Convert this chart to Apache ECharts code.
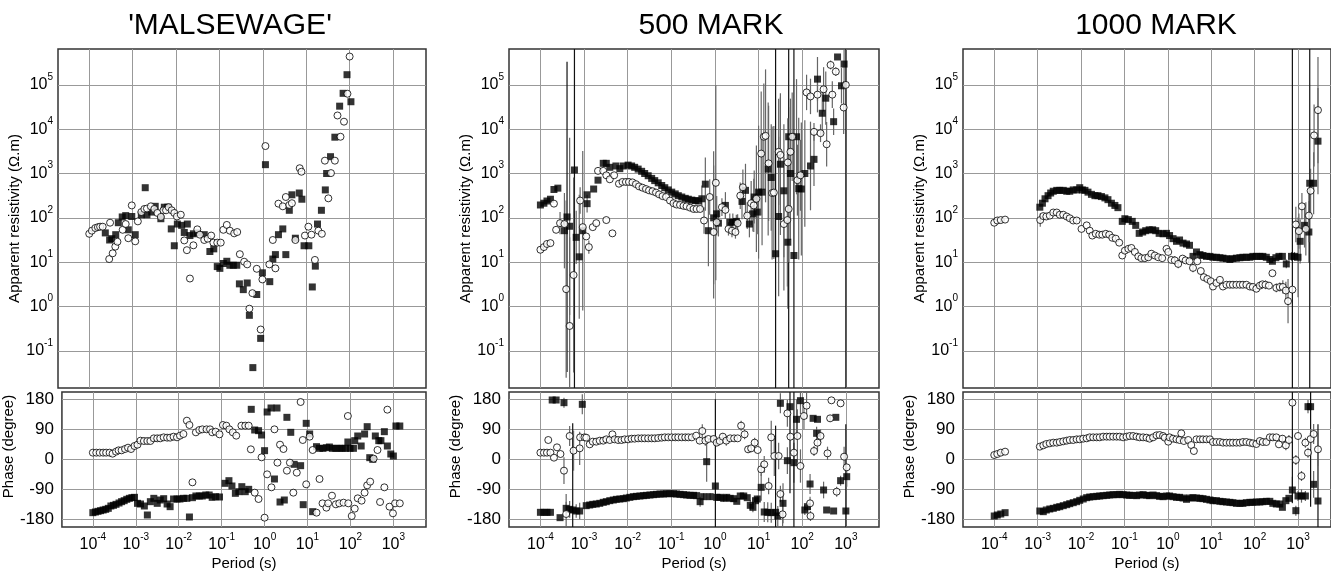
<!DOCTYPE html>
<html>
<head>
<meta charset="utf-8">
<title>Apparent resistivity and phase</title>
<script src="https://cdn.jsdelivr.net/npm/echarts@6/dist/echarts.min.js"></script>
<style>
  html, body { margin: 0; padding: 0; background: #fff; }
  #chart { width: 1331px; height: 572px; }
</style>
</head>
<body>
<div id="chart"></div>
<script>
// every point is [log10 period (s), value, error]; resistivity value and error are log10 (decades), phase in degrees
const titles = ["'MALSEWAGE'", '500 MARK', '1000 MARK'];
const periodTicks = [-4, -3, -2, -1, 0, 1, 2, 3];
const rhoTicks = [-1, 0, 1, 2, 3, 4, 5];
const phaseTicks = [-180, -90, 0, 90, 180];

// 'MALSEWAGE'
const malSqRho = [[-3.63,1.66],[-3.53,1.50],[-3.48,1.53],[-3.39,1.62],[-3.33,1.89],[-3.24,2.02],[-3.16,2.05],[-3.10,1.73],[-3.02,2.03],[-2.94,1.62],[-2.80,2.07],[-2.71,2.68],[-2.67,2.07],[-2.56,2.13],[-2.48,2.26],[-2.35,1.98],[-2.27,2.24],[-2.19,2.24],[-2.11,1.75],[-2.04,1.37],[-1.97,1.86],[-1.87,1.83],[-1.81,1.67],[-1.74,1.86],[-1.68,1.60],[-1.60,1.64],[-1.51,1.66],[-1.35,1.62],[-1.22,1.24],[-1.13,1.30],[-1.05,0.90],[-0.99,0.86],[-0.91,0.97],[-0.83,1.02],[-0.76,0.93],[-0.68,0.93],[-0.60,0.93],[-0.54,0.51],[-0.45,0.38],[-0.36,0.53],[-0.31,-0.20],[-0.23,-1.38],[-0.14,0.27],[-0.05,-0.72],[-0.01,0.76],[0.06,3.20],[0.16,0.56],[0.23,1.07],[0.29,1.17],[0.36,1.62],[0.46,1.75],[0.53,1.17],[0.61,2.17],[0.67,2.52],[0.75,1.54],[0.84,2.56],[0.90,2.42],[0.95,1.37],[1.06,1.37],[1.14,0.44],[1.21,0.91],[1.26,1.86],[1.35,2.17],[1.44,2.63],[1.47,3.00],[1.56,3.38],[1.66,3.82],[1.77,4.52],[1.85,4.81],[1.94,5.23],[2.03,4.62]];
const malCiRho = [[-4.00,1.64],[-3.94,1.71],[-3.86,1.77],[-3.80,1.79],[-3.75,1.80],[-3.69,1.80],[-3.54,1.07],[-3.52,1.89],[-3.46,1.20],[-3.40,1.35],[-3.35,1.46],[-3.23,1.73],[-3.16,1.86],[-3.10,1.54],[-3.02,2.28],[-2.94,1.47],[-2.88,1.92],[-2.80,2.13],[-2.73,2.20],[-2.67,2.21],[-2.58,2.26],[-2.50,2.20],[-2.43,2.11],[-2.35,2.02],[-2.29,2.17],[-2.23,2.17],[-2.17,2.24],[-2.10,2.17],[-2.04,2.11],[-1.98,2.03],[-1.89,2.07],[-1.81,1.49],[-1.75,1.27],[-1.68,0.63],[-1.60,1.38],[-1.51,1.74],[-1.45,1.62],[-1.35,1.50],[-1.27,1.53],[-1.19,1.60],[-1.14,1.44],[-1.05,1.44],[-0.97,1.44],[-0.91,1.73],[-0.83,1.84],[-0.76,1.71],[-0.66,1.65],[-0.59,1.68],[-0.53,1.18],[-0.43,1.01],[-0.36,0.95],[-0.31,-0.05],[-0.24,0.30],[-0.14,0.85],[-0.05,-0.52],[-0.01,0.61],[0.06,3.62],[0.15,0.95],[0.23,1.50],[0.29,0.86],[0.36,2.32],[0.46,2.26],[0.53,2.47],[0.61,2.29],[0.67,2.33],[0.75,1.50],[0.85,3.12],[0.89,3.04],[0.97,1.60],[1.05,1.80],[1.12,1.62],[1.20,1.05],[1.28,1.71],[1.36,1.64],[1.43,3.29],[1.51,2.44],[1.57,3.01],[1.66,3.29],[1.72,4.31],[1.79,3.83],[1.87,4.17],[1.95,4.80],[2.00,5.64]];
const malSqPhs = [[-4.00,-160],[-3.94,-158],[-3.88,-156],[-3.82,-154],[-3.76,-152],[-3.70,-150],[-3.64,-147],[-3.58,-140],[-3.52,-138],[-3.46,-135],[-3.39,-131],[-3.33,-127],[-3.27,-124],[-3.21,-120],[-3.15,-117],[-3.09,-115],[-3.03,-114],[-2.96,-132],[-2.89,-134],[-2.80,-140],[-2.73,-167],[-2.66,-127],[-2.58,-117],[-2.50,-132],[-2.43,-122],[-2.35,-118],[-2.27,-134],[-2.20,-142],[-2.12,-119],[-2.04,-119],[-1.97,-119],[-1.89,-117],[-1.81,-117],[-1.75,-173],[-1.68,-115],[-1.60,-110],[-1.52,-110],[-1.45,-110],[-1.37,-107],[-1.29,-107],[-1.22,-114],[-1.14,-112],[-1.05,-113],[-0.92,-72],[-0.83,-64],[-0.76,-80],[-0.68,-102],[-0.60,-97],[-0.53,-82],[-0.45,-97],[-0.37,-90],[-0.31,150],[-0.23,88],[-0.14,86],[-0.07,73],[0.00,26],[0.06,142],[0.15,154],[0.23,-59],[0.29,154],[0.36,-128],[0.46,-122],[0.52,126],[0.61,81],[0.69,-15],[0.84,-19],[0.90,-136],[0.97,108],[1.05,76],[1.12,-157],[1.21,38],[1.28,33],[1.36,33],[1.44,35],[1.51,37],[1.58,33],[1.66,33],[1.74,33],[1.81,33],[1.89,33],[1.94,52],[1.99,33],[2.07,33],[2.10,56],[2.17,70],[2.25,40],[2.33,76],[2.39,98],[2.45,5],[2.52,0],[2.58,70],[2.66,56],[2.71,56],[2.79,83],[2.86,40],[2.94,16],[3.00,10],[3.06,100],[3.15,100]];
const malCiPhs = [[-4.00,20],[-3.92,20],[-3.84,20],[-3.76,20],[-3.69,20],[-3.61,20],[-3.54,17],[-3.46,23],[-3.40,27],[-3.33,27],[-3.25,31],[-3.18,35],[-3.11,31],[-3.03,40],[-2.96,44],[-2.89,56],[-2.81,55],[-2.73,55],[-2.66,55],[-2.58,63],[-2.50,63],[-2.43,63],[-2.35,66],[-2.27,65],[-2.20,65],[-2.12,68],[-2.04,66],[-1.97,71],[-1.89,76],[-1.81,116],[-1.75,103],[-1.68,-69],[-1.60,81],[-1.52,88],[-1.45,90],[-1.35,90],[-1.27,90],[-1.22,81],[-1.14,83],[-1.05,75],[-0.97,103],[-0.89,101],[-0.82,90],[-0.74,81],[-0.66,71],[-0.54,101],[-0.45,101],[-0.37,101],[-0.32,30],[-0.23,-100],[-0.14,-119],[-0.07,6],[0.00,-175],[0.06,-45],[0.16,-84],[0.23,90],[0.30,-10],[0.36,44],[0.44,31],[0.52,-34],[0.59,-10],[0.67,-100],[0.75,-40],[0.84,172],[0.89,58],[0.97,-75],[1.05,68],[1.12,28],[1.21,-160],[1.28,-59],[1.35,-132],[1.44,-145],[1.48,-132],[1.57,-109],[1.66,-135],[1.74,-132],[1.84,-130],[1.94,130],[1.95,-132],[2.03,-170],[2.10,-148],[2.17,-117],[2.26,-124],[2.33,-100],[2.39,-78],[2.46,-67],[2.54,2],[2.63,28],[2.69,-128],[2.79,-84],[2.86,149],[2.91,-142],[2.99,-162],[3.04,-132],[3.15,-132]];

// 500 MARK
const m500SqRho = [[-4.00,2.29],[-3.92,2.33],[-3.85,2.38],[-3.77,2.42],[-3.69,2.64],[-3.60,2.67],[-3.45,1.71,0.85],[-3.39,2.02,3.5],[-3.33,1.81,2],[-3.22,3.08,6],[-3.18,1.56,0.6],[-3.11,1.12,1.4],[-3.03,1.71,1.8],[-2.93,2.32,0.2],[-2.93,2.52],[-2.78,2.65],[-2.68,2.85],[-2.56,3.23],[-2.49,3.23],[-2.41,3.14],[-2.27,3.17],[-2.18,3.11],[-2.10,3.17],[-1.99,3.19],[-1.91,3.17],[-1.84,3.14],[-1.76,3.10],[-1.68,3.05],[-1.61,3.00],[-1.53,2.95],[-1.45,2.89],[-1.38,2.84],[-1.30,2.79],[-1.22,2.73],[-1.15,2.68],[-1.07,2.63],[-0.99,2.58],[-0.91,2.54],[-0.84,2.50],[-0.76,2.47],[-0.68,2.44],[-0.61,2.42],[-0.53,2.40],[-0.45,2.39],[-0.38,2.38],[-0.30,2.43,0.3],[-0.22,2.76,0.6],[-0.15,1.71,0.8],[-0.03,2.00,1.5],[0.04,2.09,0.4],[0.08,1.88,0.3],[0.24,2.28,0.3],[0.34,1.90,0.2],[0.41,1.90,0.2],[0.49,1.92,0.15],[0.62,2.37,0.4],[0.70,2.62,0.6],[0.79,1.86,0.3],[0.87,2.09,0.4],[0.90,2.47,0.6],[0.97,2.13,0.5],[1.00,2.58,1.5],[1.08,2.58,1.2],[1.22,3.10,1.5],[1.29,2.91,1.2],[1.39,1.19,6],[1.46,2.03,1.8],[1.50,3.21,1.6],[1.58,2.61,1.5],[1.67,1.45,1.5],[1.69,3.83,6],[1.73,3.00,1.5],[1.81,1.15,6],[1.87,3.83,1.3],[1.92,2.66,1.6],[1.98,2.65,1.5],[2.06,3.00,1.2],[2.19,3.17,1.0],[2.27,3.32,0.6],[2.35,5.13,0.5],[2.46,4.36,0.5],[2.54,4.70,0.6],[2.72,4.17,0.3],[2.81,5.63],[2.90,4.98,0.4],[2.96,5.47,0.4]];
const m500CiRho = [[-4.00,1.28],[-3.92,1.34],[-3.85,1.41],[-3.77,1.43],[-3.69,2.32],[-3.64,1.73],[-3.55,1.88,0.25],[-3.45,1.86],[-3.41,0.39,2],[-3.33,-0.44,2],[-3.24,0.71,2.2],[-3.09,2.39,0.3],[-3.03,1.79],[-2.95,1.58],[-2.89,1.34,0.15],[-2.80,1.79],[-2.72,1.88],[-2.49,1.95],[-2.35,1.65],[-2.68,3.06],[-2.56,3.06],[-2.49,2.96],[-2.41,2.87],[-2.31,2.96],[-2.20,2.77],[-2.12,2.81],[-2.04,2.81],[-1.97,2.81],[-1.89,2.80],[-1.81,2.76],[-1.74,2.71],[-1.66,2.68],[-1.58,2.65],[-1.51,2.62],[-1.43,2.60],[-1.35,2.57],[-1.28,2.53],[-1.20,2.49],[-1.12,2.47],[-1.03,2.39],[-0.95,2.33],[-0.88,2.30],[-0.80,2.29],[-0.72,2.27],[-0.65,2.26],[-0.57,2.23],[-0.49,2.20],[-0.42,2.20],[-0.34,2.20],[-0.25,1.94,0.3],[-0.12,2.47,0.4],[-0.03,1.68,1.5],[0.02,2.79,2.2],[0.04,1.90,0.3],[0.16,2.24,0.2],[0.24,2.18,0.2],[0.31,1.75,0.15],[0.39,1.71,0.15],[0.47,1.68,0.15],[0.52,1.88,0.2],[0.58,2.50,0.3],[0.64,2.69,0.4],[0.74,2.05,0.3],[0.83,2.33,0.5],[0.89,2.28,0.6],[0.95,2.43,1.2],[1.06,3.45,1.4],[1.12,3.83,1.2],[1.16,3.85,1.5],[1.23,3.23,1.3],[1.31,2.56,1.5],[1.35,2.57,1.5],[1.46,3.49,1.2],[1.50,3.42,1.3],[1.58,1.86,1.5],[1.66,1.95,1.5],[1.69,2.20,1.2],[1.67,3.25,1.0],[1.73,3.49,1.2],[1.77,3.83,1.0],[1.89,2.85,0.8],[1.96,2.96,0.8],[2.10,4.83,0.4],[2.19,4.74,0.4],[2.27,3.94,0.2],[2.35,4.78,0.4],[2.42,3.91,0.2],[2.49,4.90,0.5],[2.56,3.66,0.5],[2.69,4.78,0.3],[2.65,5.45,0.1],[2.77,5.30,0.1],[2.95,4.49,0.6],[3.00,5.00,8]];
const m500SqPhs = [[-4.00,-159],[-3.92,-159],[-3.85,-159],[-3.77,-159],[-3.73,178],[-3.64,178],[-3.55,-175],[-3.46,170,15],[-3.41,-147,20],[-3.33,-150,25],[-3.26,-152,260],[-3.18,-155,20],[-3.10,-155,25],[-3.04,165,30],[-2.95,-139],[-2.87,-137],[-2.80,-135],[-2.72,-134],[-2.64,-132],[-2.56,-129],[-2.49,-127],[-2.41,-124],[-2.33,-122],[-2.26,-120],[-2.18,-119],[-2.10,-118],[-2.03,-116],[-1.95,-114],[-1.87,-112],[-1.80,-111],[-1.72,-110],[-1.64,-109],[-1.57,-108],[-1.49,-107],[-1.41,-106],[-1.34,-105],[-1.26,-104],[-1.18,-104],[-1.11,-103],[-1.03,-103],[-0.95,-103],[-0.88,-104],[-0.80,-105],[-0.72,-106],[-0.65,-107],[-0.57,-108],[-0.49,-108],[-0.42,-109],[-0.34,-127,15],[-0.26,-112,10],[-0.19,-7,60],[-0.11,-112,10],[0.01,-80,260],[0.04,-114,10],[0.12,-114,10],[0.20,-117,10],[0.27,-114,10],[0.35,-117],[0.43,-118],[0.50,-126],[0.58,-110,10],[0.66,-110,10],[0.74,-115],[0.81,-138,15],[0.87,-144,15],[0.93,-124,10],[0.97,-119,10],[1.06,-84,40],[1.13,-158,30],[1.21,-159,30],[1.29,-160,30],[1.39,-159,260],[1.44,-170,30],[1.50,168,30],[1.56,-132,60],[1.66,-4,40],[1.72,158,260],[1.81,-10,60],[1.87,120,60],[1.96,176,40],[2.06,-152,15],[2.12,-142,15],[2.18,-74,30],[2.25,123],[2.35,120],[2.33,78,20],[2.49,-92,25],[2.56,-152],[2.72,-155],[2.77,126],[2.88,-64,15],[3.00,-155,260],[3.02,-52,30]];
const m500CiPhs = [[-4.00,20],[-3.92,20],[-3.85,20],[-3.77,20],[-3.82,58],[-3.69,5],[-3.62,36],[-3.54,16],[-3.46,-34,40],[-3.41,-164,60],[-3.33,70,30],[-3.24,26,60],[-3.10,33,50],[-3.09,66],[-2.99,66],[-2.95,65],[-2.87,45],[-2.80,53],[-2.72,53],[-2.64,56],[-2.56,56],[-2.49,60],[-2.41,58],[-2.35,75],[-2.30,60],[-2.22,58],[-2.14,58],[-2.07,60],[-1.99,60],[-1.91,62],[-1.84,62],[-1.76,63],[-1.68,63],[-1.61,63],[-1.53,63],[-1.45,63],[-1.38,63],[-1.30,64],[-1.22,65],[-1.15,66],[-1.07,66],[-0.99,66],[-0.91,66],[-0.84,66],[-0.76,66],[-0.68,66],[-0.61,66],[-0.53,66],[-0.43,71],[-0.35,56,10],[-0.29,85,20],[-0.22,56,15],[-0.15,61],[-0.03,61,10],[0.04,50,10],[0.11,55,10],[0.18,68,10],[0.26,56,15],[0.35,63],[0.44,63],[0.52,63],[0.60,101,15],[0.68,75,15],[0.76,30,10],[0.83,33,10],[0.91,50,15],[0.98,28],[1.06,-30,20],[1.13,-15,25],[1.23,-80,25],[1.29,66,50],[1.36,10,60],[1.46,10,40],[1.50,-104,25],[1.55,-165,60],[1.66,138,40],[1.73,68,60],[1.81,20,260],[1.89,70,80],[1.96,-20,50],[2.04,130,40],[2.10,161,40],[2.18,-132,20],[2.19,-170,15],[2.27,25,15],[2.35,50,25],[2.42,70,20],[2.58,18,20],[2.64,123,10],[2.67,177],[2.79,-97,15],[2.88,168],[2.96,8,30],[3.02,-24]];

// 1000 MARK
const m1000SqRho = [[-2.95,2.24],[-2.89,2.33],[-2.83,2.43],[-2.76,2.50],[-2.70,2.56],[-2.64,2.60],[-2.56,2.62],[-2.49,2.62],[-2.41,2.62],[-2.33,2.60],[-2.26,2.60],[-2.18,2.63],[-2.10,2.63],[-2.03,2.68],[-1.97,2.63],[-1.91,2.62],[-1.84,2.58],[-1.76,2.53],[-1.68,2.50],[-1.61,2.50],[-1.53,2.48],[-1.45,2.45],[-1.38,2.41],[-1.30,2.33],[-1.22,2.28],[-1.15,2.23],[-1.05,1.92],[-0.99,1.98],[-0.91,1.96],[-0.82,1.92],[-0.74,1.83],[-0.66,1.65],[-0.58,1.68],[-0.51,1.71],[-0.43,1.73],[-0.35,1.73],[-0.28,1.71],[-0.20,1.65],[-0.11,1.64],[-0.03,1.65],[0.04,1.60],[0.12,1.53],[0.20,1.47],[0.27,1.50],[0.35,1.43],[0.43,1.41],[0.50,1.38],[0.58,1.13],[0.66,1.23],[0.74,1.17],[0.81,1.15],[0.89,1.13],[0.97,1.13],[1.04,1.11],[1.12,1.11],[1.20,1.10],[1.27,1.09],[1.35,1.08],[1.43,1.06],[1.50,1.08],[1.58,1.09],[1.66,1.10],[1.73,1.11],[1.81,1.11],[1.89,1.11],[1.96,1.13],[2.04,1.13],[2.12,1.13],[2.19,1.13],[2.27,1.11],[2.35,1.06],[2.41,1.02],[2.49,1.10],[2.56,1.13],[2.64,1.13],[2.73,0.96,0.1],[2.85,1.13,0.1],[2.92,1.13,0.1],[3.00,1.11,0.9],[3.05,1.47,0.5],[3.15,1.83,0.5],[3.25,1.68,0.7],[3.27,2.78,8],[3.36,2.78,0.7],[3.46,3.73,1.2]];
const m1000CiRho = [[-4.00,1.89],[-3.93,1.94],[-3.85,1.95],[-3.75,1.96],[-2.94,1.95,0.15],[-2.87,2.04],[-2.80,2.03],[-2.72,2.05],[-2.64,2.12],[-2.56,2.12],[-2.49,2.07],[-2.41,2.07],[-2.33,2.03],[-2.26,1.99],[-2.18,1.94],[-2.10,1.94],[-1.99,1.75],[-1.87,1.83],[-1.80,1.71],[-1.74,1.60],[-1.66,1.64],[-1.58,1.62],[-1.51,1.62],[-1.43,1.64],[-1.35,1.62],[-1.28,1.55],[-1.20,1.53],[-1.12,1.44],[-1.05,1.15],[-0.99,1.26],[-0.91,1.30],[-0.84,1.32],[-0.76,1.23],[-0.68,1.13],[-0.61,1.09],[-0.53,1.09],[-0.45,1.11],[-0.38,1.19],[-0.30,1.15],[-0.22,1.11],[-0.13,1.09],[-0.03,1.30],[0.01,1.23],[0.08,1.05],[0.16,1.04,0.1],[0.24,0.96,0.1],[0.34,1.08],[0.41,1.04],[0.50,1.02],[0.58,0.87,0.1],[0.68,1.02],[0.76,0.80],[0.83,0.66],[0.91,0.62],[0.99,0.57],[1.04,0.45],[1.12,0.53],[1.20,0.60],[1.27,0.45],[1.35,0.49],[1.43,0.49],[1.50,0.49],[1.58,0.49],[1.66,0.49],[1.73,0.49],[1.81,0.49],[1.89,0.45],[1.96,0.44],[2.04,0.40],[2.12,0.47],[2.18,0.50],[2.25,0.49,0.1],[2.33,0.47],[2.41,0.75],[2.50,0.42,0.1],[2.58,0.44,0.1],[2.65,0.44,0.15],[2.72,0.36,0.2],[2.77,0.12,0.5],[2.87,0.38,8],[2.95,1.85,0.4],[3.02,1.70,0.4],[3.09,2.26,0.3],[3.18,1.75,0.6],[3.25,2.05,0.6],[3.29,2.61,0.5],[3.37,3.86,0.7],[3.46,4.43,1.2]];
const m1000SqPhs = [[-4.00,-170],[-3.93,-167],[-3.85,-164],[-3.75,-160],[-2.95,-155],[-2.87,-157],[-2.80,-152],[-2.72,-149],[-2.64,-147],[-2.56,-144],[-2.49,-142],[-2.41,-139],[-2.33,-136],[-2.26,-133],[-2.18,-130],[-2.10,-127],[-2.03,-123],[-1.95,-119],[-1.87,-115],[-1.80,-113],[-1.72,-112],[-1.64,-111],[-1.57,-110],[-1.49,-109],[-1.41,-108],[-1.34,-107],[-1.26,-106],[-1.18,-106],[-1.11,-105],[-1.03,-106],[-0.95,-107],[-0.88,-108],[-0.80,-108],[-0.72,-109],[-0.65,-107],[-0.57,-106],[-0.49,-108],[-0.42,-109],[-0.34,-107],[-0.26,-109],[-0.19,-111],[-0.11,-112],[-0.03,-110],[0.04,-110],[0.12,-112],[0.20,-114],[0.27,-114],[0.35,-116],[0.43,-120],[0.50,-116],[0.58,-115],[0.66,-116],[0.74,-117],[0.81,-118],[0.89,-120],[0.97,-122],[1.04,-124],[1.12,-124],[1.20,-126],[1.27,-127],[1.35,-128],[1.43,-129],[1.50,-130],[1.58,-132],[1.66,-132],[1.73,-132],[1.81,-130],[1.89,-129],[1.96,-129],[2.04,-128],[2.12,-128],[2.19,-127],[2.27,-126],[2.35,-126],[2.42,-132],[2.50,-134],[2.58,-134],[2.64,-144],[2.72,-124],[2.79,-117],[2.87,-92,40],[2.95,-154,15],[3.00,-110,15],[3.08,-110,20],[3.17,-110,15],[3.23,158,20],[3.29,158,300],[3.36,-75,40],[3.46,-125,230]];
const m1000CiPhs = [[-4.00,13],[-3.93,16],[-3.85,20],[-3.75,23],[-2.95,38],[-2.87,42],[-2.80,46],[-2.72,48],[-2.64,50],[-2.56,50],[-2.49,52],[-2.41,54],[-2.33,56],[-2.26,58],[-2.18,58],[-2.10,60],[-2.03,60],[-1.95,62],[-1.87,63],[-1.80,66],[-1.72,66],[-1.64,66],[-1.57,66],[-1.49,68],[-1.41,68],[-1.34,68],[-1.26,68],[-1.18,68],[-1.11,68],[-1.03,66],[-0.95,68],[-0.88,70],[-0.80,70],[-0.72,68],[-0.65,66],[-0.57,66],[-0.49,65],[-0.42,62],[-0.34,66],[-0.26,72],[-0.19,73],[-0.11,70],[-0.07,65],[0.01,53],[0.04,66],[0.12,62],[0.20,60],[0.27,58],[0.31,78],[0.37,55],[0.47,58],[0.54,43],[0.60,25],[0.66,60],[0.74,60],[0.81,60],[0.89,60],[0.97,60],[1.04,52],[1.12,52],[1.20,52],[1.27,50],[1.35,50],[1.43,50],[1.50,50],[1.58,50],[1.66,50],[1.73,52],[1.81,52],[1.89,50],[1.96,48],[2.04,46],[2.12,55],[2.19,52],[2.27,52],[2.35,66],[2.42,66],[2.50,66],[2.56,45],[2.64,62,10],[2.72,42,15],[2.79,58,15],[2.87,170,300],[2.95,-2,15],[3.00,70],[3.08,-50,15],[3.17,50,15],[3.23,20,15],[3.29,61,30],[3.36,76,30],[3.46,30,50]];

const sites = [
  { sqRho: malSqRho, ciRho: malCiRho, sqPhs: malSqPhs, ciPhs: malCiPhs },
  { sqRho: m500SqRho, ciRho: m500CiRho, sqPhs: m500SqPhs, ciPhs: m500CiPhs },
  { sqRho: m1000SqRho, ciRho: m1000CiRho, sqPhs: m1000SqPhs, ciPhs: m1000CiPhs }
];

const font = 'Liberation Sans, Arial, Helvetica, sans-serif';
const ink = '#000';
const lefts = [58, 509, 963];
const widths = [368, 370, 368];
const titleX = [225, 706, 1151];

// "10" with a raised exponent
const rich = {
  b: { fontSize: 16, fontFamily: font, color: ink, padding: [5, 0, 5, 0] },
  s: { fontSize: 10, fontFamily: font, color: ink, verticalAlign: 'top' }
};
const pow10 = v => '{b|10}{s|' + v + '}';

const grid = [], xAxis = [], yAxis = [], series = [];

function scatter(data, g, filled) {
  return {
    type: 'scatter', xAxisIndex: g, yAxisIndex: g, silent: true,
    data: data.map(d => [d[0], d[1]]),
    symbol: filled ? 'rect' : 'circle',
    symbolSize: 7,
    itemStyle: filled
      ? { color: ink }
      : { color: '#fff', borderColor: ink, borderWidth: 1 },
    z: filled ? 3 : 4
  };
}

function errorBars(data, g, big) {
  return {
    type: 'custom', xAxisIndex: g, yAxisIndex: g, silent: true, clip: true, z: 2,
    data: data.filter(d => d[2] > 0),
    renderItem: (params, api) => {
      const x = api.value(0), y = api.value(1), e = api.value(2);
      const a = api.coord([x, y + e]);
      const b = api.coord([x, y - e]);
      return {
        type: 'line',
        shape: { x1: a[0], y1: a[1], x2: b[0], y2: b[1] },
        style: { stroke: e >= big ? '#111' : '#666', lineWidth: 1.2 }
      };
    }
  };
}

sites.forEach((site, i) => {
  const up = i * 2, lo = i * 2 + 1;
  grid.push({ left: lefts[i], width: widths[i], top: 49, height: 339,
    show: true, borderColor: '#333', borderWidth: 1.5 });
  grid.push({ left: lefts[i], width: widths[i], top: 392, height: 135,
    show: true, borderColor: '#333', borderWidth: 1.5 });

  [up, lo].forEach(g => {
    const bottom = g === lo;
    xAxis.push({
      type: 'value', gridIndex: g, min: -4.72, max: 3.76,
      axisLine: { show: false },
      axisTick: { show: false, customValues: periodTicks },
      axisLabel: { show: bottom, customValues: periodTicks, formatter: pow10, rich: rich, margin: 5 },
      splitLine: { show: true, lineStyle: { color: '#999', width: 1 } },
      name: bottom ? 'Period (s)' : '', nameLocation: 'middle', nameGap: 29,
      nameTextStyle: { fontSize: 15, fontFamily: font, color: ink }
    });
  });

  yAxis.push({
    type: 'value', gridIndex: up, min: -1.84, max: 5.81,
    axisLine: { show: false },
    axisTick: { show: false, customValues: rhoTicks },
    axisLabel: { customValues: rhoTicks, formatter: pow10, rich: rich, margin: 5 },
    splitLine: { show: true, lineStyle: { color: '#999', width: 1 } },
    name: 'Apparent resistivity (\u03a9.m)', nameLocation: 'middle', nameGap: 35,
    nameTextStyle: { fontSize: 15, fontFamily: font, color: ink }
  });
  yAxis.push({
    type: 'value', gridIndex: lo, min: -203, max: 202,
    axisLine: { show: false },
    axisTick: { show: false, customValues: phaseTicks },
    axisLabel: { customValues: phaseTicks, fontSize: 17, fontFamily: font, color: ink, margin: 8 },
    splitLine: { show: true, lineStyle: { color: '#999', width: 1 } },
    name: 'Phase (degree)', nameLocation: 'middle', nameGap: 37,
    nameTextStyle: { fontSize: 15, fontFamily: font, color: ink, padding: [0, 0, 0, 26] }
  });

  series.push(errorBars(site.sqRho, up, 3), errorBars(site.ciRho, up, 3));
  series.push(errorBars(site.sqPhs, lo, 150), errorBars(site.ciPhs, lo, 150));
  series.push(scatter(site.sqRho, up, true), scatter(site.ciRho, up, false));
  series.push(scatter(site.sqPhs, lo, true), scatter(site.ciPhs, lo, false));
});

const chart = echarts.init(document.getElementById('chart'));
chart.setOption({
  animation: false,
  backgroundColor: '#fff',
  title: titles.map((t, i) => ({
    text: t, left: titleX[i], top: 6, textAlign: 'center',
    textStyle: { fontSize: 30, fontWeight: 'normal', fontFamily: font, color: ink }
  })),
  grid: grid,
  xAxis: xAxis,
  yAxis: yAxis,
  series: series
});
</script>
</body>
</html>
